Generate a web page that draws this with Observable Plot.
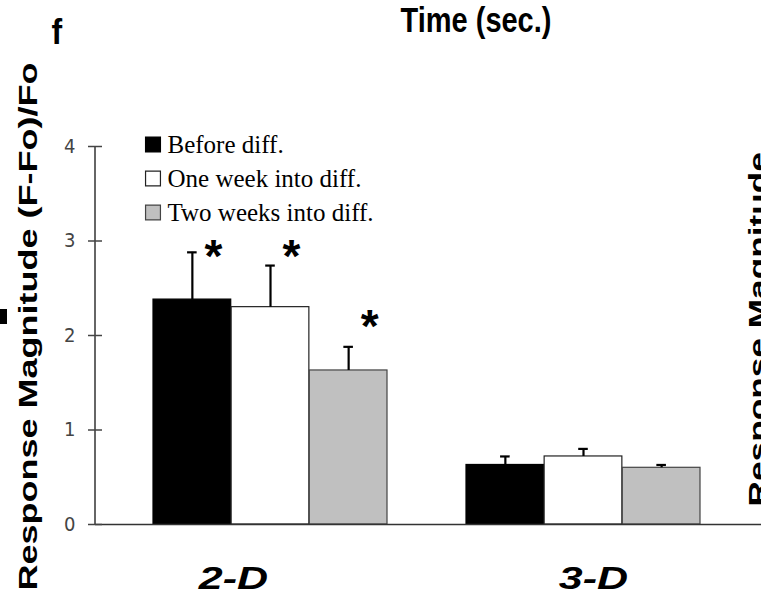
<!DOCTYPE html>
<html>
<head>
<meta charset="utf-8">
<script src="https://cdn.jsdelivr.net/npm/d3@7"></script>
<script src="https://cdn.jsdelivr.net/npm/@observablehq/plot@0.6"></script>
<style>
  html, body { margin: 0; padding: 0; background: #fff; }
</style>
</head>
<body>
<div id="chart"></div>
<script>
// ---- data ----
const groups = ["2-D", "3-D"];
const seriesNames = ["Before diff.", "One week into diff.", "Two weeks into diff."];
const meanBefore   = [2.38, 0.63];
const meanOneWeek  = [2.30, 0.72];
const meanTwoWeeks = [1.63, 0.60];
const semBefore    = [0.50, 0.09];
const semOneWeek   = [0.44, 0.08];
const semTwoWeeks  = [0.25, 0.03];
// asterisk (significance marker) heights, y units; null = none
const starBefore   = [2.93, null];
const starOneWeek  = [2.93, null];
const starTwoWeeks = [2.19, null];
const yTicks = [0, 1, 2, 3, 4];

const means = [meanBefore, meanOneWeek, meanTwoWeeks];
const sems = [semBefore, semOneWeek, semTwoWeeks];
const stars = [starBefore, starOneWeek, starTwoWeeks];
const rows = seriesNames.flatMap((s, i) => groups.map((g, j) => ({
  group: g, series: s, si: i, mean: means[i][j], sem: sems[i][j], star: stars[i][j]
})));

// ---- layout / style ----
const W = 761, H = 613, mL = 95, mR = 0, mT = 146, mB = 89;
const pI = 0.2515, pO = 0.189, align = 0.487;
const n = seriesNames.length;
const step = (W - mL - mR) / (groups.length - pI + 2 * pO);
const bw = step * (1 - pI);
const sub = bw / n;
const fills = ["#000000", "#ffffff", "#c0c0c0"];
const strokes = ["#000000", "#222222", "#444444"];
const sans = "'Liberation Sans', Arial, sans-serif";
const serif = "'Liberation Serif', 'Times New Roman', serif";
const labelOffsets = [-37, 10];

const marks = [];

// bars, error bars, asterisks
seriesNames.forEach((s, i) => {
  const d = rows.filter(r => r.si === i);
  marks.push(Plot.barY(d, {
    x: "group", y: "mean", fill: fills[i], stroke: strokes[i], strokeWidth: 1.2,
    insetLeft: i * sub, insetRight: (n - 1 - i) * sub
  }));
  marks.push(Plot.ruleX(d, {
    x: "group", y1: "mean", y2: r => r.mean + r.sem,
    dx: (i - (n - 1) / 2) * sub, stroke: "#000", strokeWidth: 2.2
  }));
  marks.push(Plot.tickY(d, {
    x: "group", y: r => r.mean + r.sem, stroke: "#000", strokeWidth: 2.2,
    insetLeft: i * sub + sub / 2 - 5, insetRight: (n - 1 - i) * sub + sub / 2 - 5
  }));
  marks.push(Plot.text(d.filter(r => r.star != null), {
    x: "group", y: "star", text: () => "*",
    dx: (i - (n - 1) / 2) * sub + 21, dy: 10,
    fontSize: 46, fontWeight: "bold", fontFamily: sans, fill: "#000",
    lineAnchor: "middle"
  }));
});

// axes
marks.push(Plot.ruleY([0], {stroke: "#333", strokeWidth: 1.5}));
marks.push((index, scales) => {
  const y = scales.y;
  const g = d3.create("svg:g");
  g.append("line")
    .attr("x1", mL).attr("x2", mL)
    .attr("y1", y(yTicks[0])).attr("y2", y(yTicks[yTicks.length - 1]))
    .attr("stroke", "#333").attr("stroke-width", 1.5);
  // fragment of a neighbouring panel's label at the left edge
  g.append("rect").attr("x", 0).attr("y", 309).attr("width", 7).attr("height", 15).attr("fill", "#000");
  return g.node();
});
marks.push(Plot.axisY(yTicks, {
  tickSize: 7, tickPadding: 13, label: null, tickFormat: d => String(d),
  fontSize: 20, fontFamily: "'Liberation Sans Narrow', 'DejaVu Sans Condensed', sans-serif",
  color: "#444", strokeWidth: 1.5
}));
marks.push(Plot.tickY(yTicks, {y: d => d, insetRight: W - mL - mR - 7, stroke: "#444", strokeWidth: 1.5}));

// category labels
groups.forEach((g, j) => {
  marks.push(Plot.text([g], {
    x: d => d, text: d => d, frameAnchor: "bottom", dy: 588 - (H - mB), dx: labelOffsets[j],
    lineAnchor: "bottom", fontSize: 43, fontWeight: "bold", fontStyle: "italic",
    fontFamily: sans, fill: "#000"
  }));
});

// legend
seriesNames.forEach((s, i) => {
  marks.push(Plot.dot([s], {
    frameAnchor: "top-left", dx: 152.5 - mL, dy: 144 + 34 * i - mT,
    symbol: "square", r: 8.4, fill: fills[i], stroke: strokes[i], strokeWidth: 1.2
  }));
  marks.push(Plot.text([s], {
    frameAnchor: "top-left", dx: 167 - mL, dy: 152 + 34 * i - mT, text: d => d,
    textAnchor: "start", lineAnchor: "bottom", fontSize: 25, fontFamily: serif, fill: "#000"
  }));
});

// titles / axis labels
marks.push(Plot.text(["Response Magnitude (F-Fo)/Fo"], {
  frameAnchor: "top-left", dx: 36 - mL, dy: 326 - mT, text: d => d, rotate: -90,
  textAnchor: "middle", lineAnchor: "bottom", fontSize: 26, fontWeight: "bold", fontFamily: sans, fill: "#000"
}));
marks.push(Plot.text(["Response Magnitude"], {
  frameAnchor: "top-left", dx: 766 - mL, dy: 506 - mT, text: d => d, rotate: -90,
  textAnchor: "start", lineAnchor: "bottom", fontSize: 25, fontWeight: "bold", fontFamily: sans, fill: "#000"
}));
marks.push(Plot.text(["Time (sec.)"], {
  frameAnchor: "top-left", dx: 475.5 - mL, dy: 31 - mT, text: d => d,
  textAnchor: "middle", lineAnchor: "bottom", fontSize: 29, fontWeight: "bold", fontFamily: sans, fill: "#000"
}));
marks.push(Plot.text(["f"], {
  frameAnchor: "top-left", dx: 51 - mL, dy: 43 - mT, text: d => d,
  textAnchor: "start", lineAnchor: "bottom", fontSize: 32, fontWeight: "bold", fontFamily: sans, fill: "#000"
}));

const svg = Plot.plot({
  width: W, height: H,
  marginLeft: mL, marginRight: mR, marginTop: mT, marginBottom: mB,
  style: {fontFamily: sans, background: "#fff", overflow: "hidden"},
  x: {type: "band", domain: groups, paddingInner: pI, paddingOuter: pO, align, axis: null},
  y: {domain: [0, 4], axis: null},
  marks
});

// stretch the condensed / widened fonts of the original
const stretch = {
  "2-D": "scale(1,0.71)", "3-D": "scale(1,0.71)",
  "Time (sec.)": "scale(1,1.2)", "f": "scale(1,1.1)",
  "Response Magnitude (F-Fo)/Fo": "scale(1.385,1)", "Response Magnitude": "scale(1.41,1)"
};
for (const t of svg.querySelectorAll("text")) {
  const tr = stretch[t.textContent];
  if (tr) t.setAttribute("transform", (t.getAttribute("transform") || "") + " " + tr);
}
document.getElementById("chart").appendChild(svg);
</script>
</body>
</html>
